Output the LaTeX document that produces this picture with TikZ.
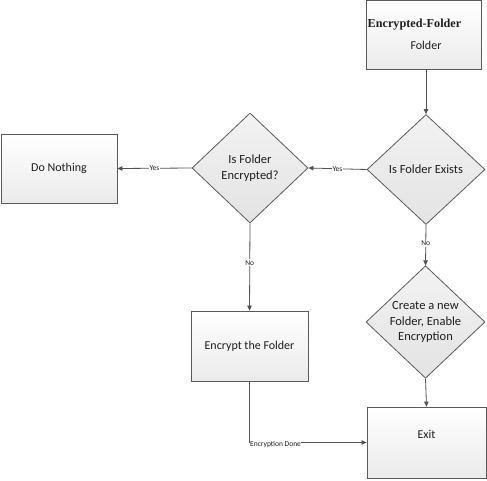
\documentclass[tikz,border=0pt]{standalone}
\usepackage{fontspec}
\setmainfont{Carlito}
\newfontfamily\serifbold{Liberation Serif}
\usetikzlibrary{shapes.geometric,arrows.meta}
\definecolor{edge}{HTML}{5A5A5A}
\definecolor{ink}{HTML}{1E1E1E}
\tikzset{
  boxnode/.style={draw=edge, line width=0.8pt, rectangle, top color=white, bottom color=black!8,
    inner sep=0pt, text=ink, font=\fontsize{12}{15}\selectfont, align=center},
  decnode/.style={draw=edge, line width=0.8pt, diamond, top color=black!5, bottom color=black!11,
    inner sep=0pt, text=ink, font=\fontsize{12.5}{15.5}\selectfont, align=center},
  conn/.style={draw=edge!90!black, line width=0.8pt, -{Triangle[length=5pt,width=4.5pt]}},
  lbl/.style={fill=white, inner sep=1pt, text=ink, font=\fontsize{7.5}{8}\selectfont}
}
\begin{document}
\begin{tikzpicture}[x=1pt,y=-1pt]
\useasboundingbox (0,0) rectangle (487,480);
\node[boxnode, minimum width=115pt, minimum height=69pt] (src) at (423.5,35) {};
\node[text=ink, font=\serifbold\bfseries\fontsize{12.2}{14}\selectfont] (srct) at (414.5,25) {Encrypted-Folder};
\node[text=ink, font=\fontsize{12}{15}\selectfont] (srcs) at (426,45) {Folder};
\node[decnode, minimum width=118pt, minimum height=110pt] (exists) at (426,169.5) {Is Folder Exists};
\node[decnode, minimum width=116pt, minimum height=110pt] (isenc) at (250,168) {Is Folder\\Encrypted?};
\node[boxnode, minimum width=116pt, minimum height=69pt] (nothing) at (59,168.5) {Do Nothing};
\node[boxnode, minimum width=117pt, minimum height=70pt] (encrypt) at (249.5,346) {Encrypt the Folder};
\node[decnode, minimum width=119pt, minimum height=110pt] (create) at (425.5,322) {Create a new\\Folder, Enable\\Encryption};
\node[boxnode, minimum width=119pt, minimum height=71pt] (exit) at (426.5,442.5) {Exit\\[2pt]};

\draw[conn] (src.south -| exists.north) -- (exists.north);
\draw[conn] (exists.west) -- node[lbl, pos=0.5] (y1) {Yes} (isenc.east);
\draw[conn] (isenc.west) -- node[lbl, pos=0.5] (y2) {Yes} (nothing.east);
\draw[conn] (isenc.south) -- node[lbl, pos=0.45] (n1) {No} (encrypt.north);
\draw[conn] (exists.south) -- node[lbl, pos=0.45] (n2) {No} (create.north);
\draw[conn] (create.south) -- (exit.north);
\draw[conn] (encrypt.south) |- (exit.west);
\node[lbl, anchor=west, inner sep=0.5pt] (done) at ([yshift=-2pt]encrypt.south |- exit.west) {Encryption Done};
\end{tikzpicture}
\end{document}
